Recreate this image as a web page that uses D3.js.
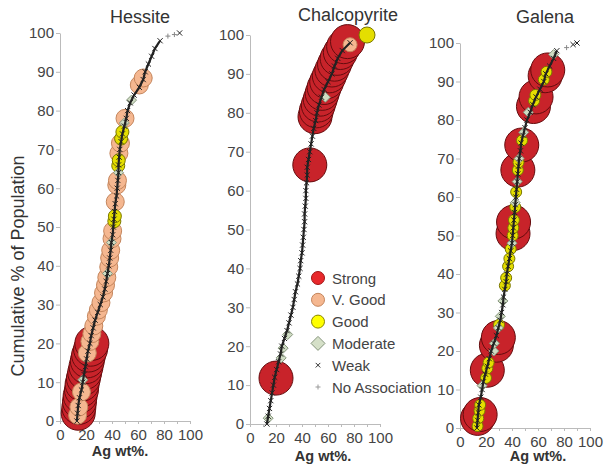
<!DOCTYPE html>
<html>
<head>
    <script src="https://d3js.org/d3.v7.min.js"></script>
    <style>
        body { margin: 0; background: #fff; }
        text { font-family: Arial, "Liberation Sans", sans-serif; }
    </style>
</head>
<body>
    <script>
        // cumulative % of population for the sampled points of each curve
        const cumPct = [0, 2, 4, 6, 8, 10, 12, 14, 16, 18, 20, 22, 24, 26, 28, 30, 32, 34, 36, 38,
            40, 42, 44, 46, 48, 50, 52, 54, 56, 58, 60, 62, 64, 66, 68, 70, 72, 74, 76, 78,
            80, 82, 84, 86, 88, 90, 92, 94, 96, 98];

        // Ag wt% at cumPct
        const hessiteAg = [13, 13.5, 14, 15, 16.5, 17.5, 18.5, 19.5, 20.5, 21.5, 23, 24, 25.5, 27, 29, 31, 33, 34.5, 35.5, 36.5,
            37.5, 38.3, 39, 39.5, 40.5, 41, 41.5, 42, 42.5, 43.5, 44, 44.5, 45, 45, 45.5, 46, 47, 48, 49.5, 51,
            52, 54, 57, 61, 64, 65.5, 68, 70.5, 73, 77];
        const chalcoAg = [13, 14, 15, 16, 17, 18, 19, 20.5, 22, 23.5, 24.5, 26.5, 28.5, 30, 31.5, 33, 34, 35, 36.5, 37.5,
            38.5, 39, 40, 40.5, 41, 41.5, 42, 42, 42.5, 43, 43, 43.5, 44, 44, 45, 46, 47, 48, 49, 50.5,
            51.5, 53, 55, 57, 60, 63, 65, 67.5, 71, 77];
        const galenaAg = [13, 13.5, 14, 14.5, 16, 17, 18, 19.5, 21, 22.5, 24, 26, 28, 29.5, 31, 32, 33, 33.5, 34.5, 35.5,
            36, 37, 38, 39, 40, 40.5, 41, 41.5, 42, 42.5, 43, 43.5, 44, 44.5, 45, 45.5, 46.5, 47, 48.5, 50,
            51.5, 54, 56, 58.5, 61.5, 64.5, 66, 69, 72, 74.5];

        // associated points: [Ag wt%, cumulative %]
        const hessiteStrong = [[14, 2], [14.5, 3.5], [15, 5], [15.5, 6.5], [16.5, 8], [17, 9.5], [18, 11], [19, 12.5],
            [20, 14], [21, 15.5], [22, 17], [23.5, 18.5], [24.5, 20]];
        const hessiteVGood = [[13.5, 1.5], [14.5, 3.6], [16.5, 7.5], [21, 17.5], [23, 20.5], [24.5, 22.5], [26, 24.5],
            [28, 27], [29.5, 28.6], [31.5, 30.5], [33.5, 33], [35, 35], [36, 37], [37.5, 39.7], [38.2, 42], [39, 44],
            [40, 47], [40.5, 49], [42.5, 56.5], [43.7, 60.8], [44.2, 62], [45.3, 69], [46.5, 71.6], [50, 78],
            [61, 86.6], [64, 88.4]];
        const hessiteGood = [[41.8, 51.5], [42.2, 52.8], [44.8, 65.8], [45.2, 67.2], [47, 72.8], [48, 74.5]];
        const hessiteModerate = [[17.5, 10.6], [36.5, 38], [39.5, 46], [45, 64], [49.5, 76.8], [55, 82.7]];
        const hessiteWeak = [[92, 100]];
        const hessiteNone = [[83, 99.2], [88, 99.6]];

        const chalcoStrong = [[20, 11.8], [46, 66.6], [50, 79], [51, 80.5], [52.5, 82], [54, 83.5], [55.5, 85],
            [57, 86.5], [59, 88], [61, 89.5], [63, 91], [65, 92.5], [67, 94], [69.5, 95.5], [72, 97], [75, 98.3]];
        const chalcoVGood = [[77, 97.5]];
        const chalcoGood = [[90, 100]];
        const chalcoModerate = [[14, 1.5], [24, 17], [25.5, 19.5], [29, 23], [58, 84]];
        const chalcoWeak = [];
        const chalcoNone = [];

        const galenaStrong = [[13.5, 2.5], [15.5, 3.5], [21, 15], [28, 21.5], [29.5, 23.5], [40.8, 50.5],
            [41.2, 53.5], [44.5, 67], [47.5, 73.5], [56.5, 83.5], [58.5, 86], [65.5, 91.5], [67.5, 93]];
        const galenaVGood = [];
        const galenaGood = [[13.5, 0.5], [14, 2.5], [15, 4.5], [15.5, 6], [20, 13], [21, 15.5], [22, 17], [30, 26.8],
            [34.5, 37], [35.5, 39], [37, 42], [38, 44], [39, 46.5], [40.5, 50], [41, 52], [41.5, 54], [42.5, 57.4],
            [43.2, 61.3], [44.5, 67], [45, 69], [47.7, 74.7], [57, 85], [58, 86.5], [64.5, 90.5], [66.5, 92.5]];
        const galenaModerate = [[17, 11], [26, 20], [26.5, 22], [29.5, 26], [31, 29], [33, 33], [40, 48], [42.5, 58.5],
            [44, 64], [45.5, 70], [49, 76.8], [52.5, 82], [72, 97]];
        const galenaWeak = [[87, 99.6], [90, 100]];
        const galenaNone = [[82, 98.8]];

        const yTicks = [0, 10, 20, 30, 40, 50, 60, 70, 80, 90, 100];
        const xTicks = [0, 10, 20, 30, 40, 50, 60, 70, 80, 90, 100];
        const xTickLabels = [0, 20, 40, 60, 80, 100];
        const legendItems = ['Strong', 'V. Good', 'Good', 'Moderate', 'Weak', 'No Association'];

        const panels = [
            { title: 'Hessite', ag: hessiteAg, strong: hessiteStrong, vgood: hessiteVGood, good: hessiteGood,
              moderate: hessiteModerate, weak: hessiteWeak, none: hessiteNone,
              box: { x0: 60, x1: 190, y0: 421, y1: 33, tx: 140, ty: 23, lx: 120, ly: 456, rS: 17, rV: 9, rG: 6.5 } },
            { title: 'Chalcopyrite', ag: chalcoAg, strong: chalcoStrong, vgood: chalcoVGood, good: chalcoGood,
              moderate: chalcoModerate, weak: chalcoWeak, none: chalcoNone,
              box: { x0: 250, x1: 380, y0: 424, y1: 35, tx: 348, ty: 21, lx: 323, ly: 461, rS: 17, rV: 7, rG: 8 } },
            { title: 'Galena', ag: galenaAg, strong: galenaStrong, vgood: galenaVGood, good: galenaGood,
              moderate: galenaModerate, weak: galenaWeak, none: galenaNone,
              box: { x0: 460, x1: 590, y0: 428, y1: 43, tx: 545, ty: 23, lx: 538, ly: 461, rS: 17, rV: 7, rG: 5.5 } }
        ];

        const col = {
            strong: { fill: '#c8232a', stroke: '#650c0e' },
            vgood: { fill: '#f5b790', stroke: '#c4855c' },
            good: { fill: '#e4de00', stroke: '#7a7600' },
            moderate: { fill: '#cfdcc3', stroke: '#86957c' }
        };
        const diamond = s => `M0,${-s}L${s},0L0,${s}L${-s},0Z`;
        const cross = s => `M${-s},${-s}L${s},${s}M${-s},${s}L${s},${-s}`;
        const plus = s => `M${-s},0H${s}M0,${-s}V${s}`;

        const svg = d3.select('body').append('svg')
            .attr('width', 604)
            .attr('height', 472);

        panels.forEach(p => {
            const b = p.box;
            const x = d3.scaleLinear().domain([0, 100]).range([b.x0, b.x1]);
            const y = d3.scaleLinear().domain([0, 100]).range([b.y0, b.y1]);
            const g = svg.append('g');

            // axes
            const ya = g.append('g')
                .attr('transform', `translate(${b.x0},0)`)
                .call(d3.axisLeft(y).tickValues(yTicks).tickSizeInner(4).tickSizeOuter(0).tickPadding(2));
            const xa = g.append('g')
                .attr('transform', `translate(0,${b.y0})`)
                .call(d3.axisBottom(x).tickValues(xTicks).tickSizeInner(3).tickSizeOuter(0).tickPadding(5)
                    .tickFormat(d => xTickLabels.includes(d) ? d : ''));
            [ya, xa].forEach(a => {
                a.select('.domain').attr('stroke', '#bbb');
                a.selectAll('.tick line').attr('stroke', '#bbb');
                a.selectAll('.tick text').attr('fill', '#444').style('font-size', '15px');
            });

            g.append('text')
                .attr('x', b.tx).attr('y', b.ty)
                .attr('text-anchor', 'middle')
                .attr('fill', '#333')
                .style('font-size', '18px')
                .text(p.title);

            g.append('text')
                .attr('x', b.lx).attr('y', b.ly)
                .attr('text-anchor', 'middle')
                .attr('fill', '#333')
                .style('font-size', '14.5px')
                .style('font-weight', 'bold')
                .text('Ag wt%.');

            // association markers
            g.selectAll('.strong').data(p.strong).join('circle')
                .attr('cx', d => x(d[0])).attr('cy', d => y(d[1])).attr('r', b.rS)
                .attr('fill', col.strong.fill).attr('stroke', col.strong.stroke).attr('stroke-width', 1);
            g.selectAll('.vgood').data(p.vgood).join('circle')
                .attr('cx', d => x(d[0])).attr('cy', d => y(d[1])).attr('r', b.rV)
                .attr('fill', col.vgood.fill).attr('stroke', col.vgood.stroke).attr('stroke-width', 1);
            g.selectAll('.good').data(p.good).join('circle')
                .attr('cx', d => x(d[0])).attr('cy', d => y(d[1])).attr('r', b.rG)
                .attr('fill', col.good.fill).attr('stroke', col.good.stroke).attr('stroke-width', 1);
            g.selectAll('.moderate').data(p.moderate).join('path')
                .attr('transform', d => `translate(${x(d[0])},${y(d[1])})`)
                .attr('d', diamond(5))
                .attr('fill', col.moderate.fill).attr('stroke', col.moderate.stroke).attr('stroke-width', 1);

            // weak points forming the curve
            const curve = p.ag.map((a, i) => [a, cumPct[i]]);
            g.append('path')
                .datum(curve)
                .attr('fill', 'none')
                .attr('stroke', '#222')
                .attr('stroke-width', 2.2)
                .attr('d', d3.line().x(d => x(d[0])).y(d => y(d[1])));
            g.selectAll('.weak').data(curve.concat(p.weak)).join('path')
                .attr('transform', d => `translate(${x(d[0])},${y(d[1])})`)
                .attr('d', cross(2.6))
                .attr('fill', 'none').attr('stroke', '#222').attr('stroke-width', 1);
            g.selectAll('.none').data(p.none).join('path')
                .attr('transform', d => `translate(${x(d[0])},${y(d[1])})`)
                .attr('d', plus(2.5))
                .attr('fill', 'none').attr('stroke', '#888').attr('stroke-width', 1);
        });

        // y axis title
        svg.append('text')
            .attr('transform', 'translate(24,266) rotate(-90)')
            .attr('text-anchor', 'middle')
            .attr('fill', '#333')
            .style('font-size', '18px')
            .text('Cumulative % of Population');

        // legend
        const legend = svg.append('g').attr('transform', 'translate(318,278)');
        legendItems.forEach((name, i) => {
            const row = legend.append('g').attr('transform', `translate(0,${i * 21.8})`);
            if (i === 0) row.append('circle').attr('r', 6.5).attr('fill', '#e8282b').attr('stroke', '#a01515');
            if (i === 1) row.append('circle').attr('r', 6.5).attr('fill', '#f5b790').attr('stroke', '#c4855c');
            if (i === 2) row.append('circle').attr('r', 6.5).attr('fill', '#ffff00').attr('stroke', '#8a8600');
            if (i === 3) row.append('path').attr('d', diamond(7)).attr('fill', '#d5e0c8').attr('stroke', '#86957c');
            if (i === 4) row.append('path').attr('d', cross(2.3)).attr('fill', 'none').attr('stroke', '#333');
            if (i === 5) row.append('path').attr('d', plus(2.5)).attr('fill', 'none').attr('stroke', '#999');
            row.append('text')
                .attr('x', 14).attr('y', 5.5)
                .attr('fill', '#444')
                .style('font-size', '15px')
                .text(name);
        });
    </script>
</body>
</html>
